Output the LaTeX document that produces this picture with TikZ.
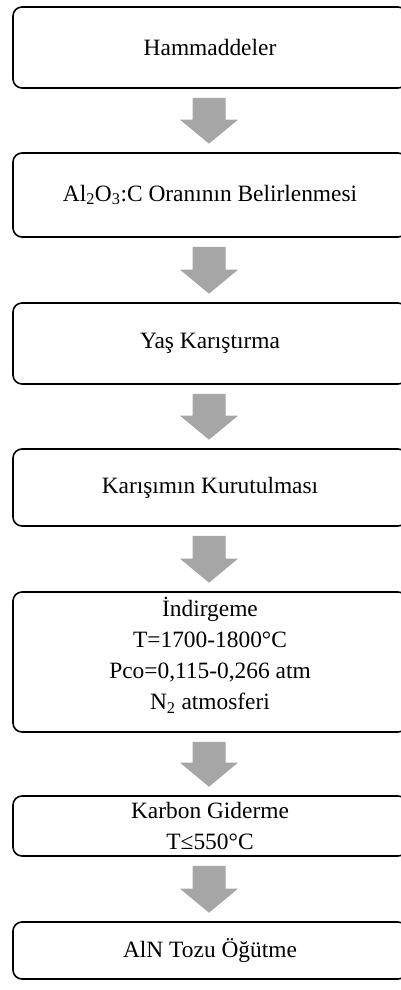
\documentclass[tikz,border=0pt]{standalone}
\usepackage{fontspec}
\setmainfont{Liberation Serif}
\usetikzlibrary{calc}
\definecolor{arrowgray}{RGB}{166,166,166}
\tikzset{
  boxfont/.style={align=center, font=\fontsize{23.4}{31}\selectfont},
  stepbox/.style={draw=black, line width=1.6pt, rounded corners=9pt, fill=white,
    minimum width=394pt, inner sep=0pt, boxfont},
}
\newcommand\blkarrow[2]{%
  \path let \p1=($(#1.south)+(-1pt,-9pt)$), \p2=($(#2.north)+(-1pt,8.5pt)$) in
    [fill=arrowgray] (\x1-16.5pt,\y1) -- (\x1+16.5pt,\y1) -- (\x1+16.5pt,\y2+24pt)
    -- (\x1+29pt,\y2+24pt) -- (\x1,\y2) -- (\x1-29pt,\y2+24pt) -- (\x1-16.5pt,\y2+24pt) -- cycle;}
\begin{document}
\begin{tikzpicture}[x=1pt,y=1pt]
\useasboundingbox (0,0) rectangle (401,-990);
\node[stepbox, minimum height=81pt] (b1) at (210,-47.5) {Hammaddeler};
\node[stepbox, minimum height=84pt] (b2) at (210,-195) {Al\textsubscript{2}O\textsubscript{3}:C Oranının Belirlenmesi};
\node[stepbox, minimum height=81pt] (b3) at (210,-343.5) {Yaş Karıştırma};
\node[stepbox, minimum height=77pt] (b4) at (210,-487.5) {Karışımın Kurutulması};
\node[stepbox, minimum height=140pt] (b5) at (210,-662) {};
\node[boxfont, inner sep=0pt] (b5t) at (210,-655) {İndirgeme\\T=1700-1800°C\\Pco=0,115-0,266 atm\\N\textsubscript{2} atmosferi};
\node[stepbox, minimum height=60pt] (b6) at (210,-826) {Karbon Giderme\\T≤550°C};
\node[stepbox, minimum height=57pt] (b7) at (210,-950.5) {AlN Tozu Öğütme};
\blkarrow{b1}{b2}
\blkarrow{b2}{b3}
\blkarrow{b3}{b4}
\blkarrow{b4}{b5}
\blkarrow{b5}{b6}
\blkarrow{b6}{b7}
\end{tikzpicture}
\end{document}
